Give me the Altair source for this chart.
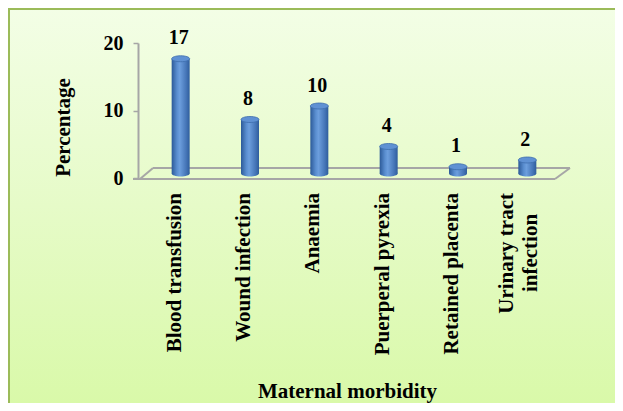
import altair as alt
import pandas as pd

categories = ["Blood transfusion", "Wound infection", "Anaemia",
              "Puerperal pyrexia", "Retained placenta", "Urinary tract infection"]
values = [17, 8, 10, 4, 1, 2]
label_line1 = ["Blood transfusion", "Wound infection", "Anaemia",
               "Puerperal pyrexia", "Retained placenta", "Urinary tract"]
label_line2 = ["", "", "", "", "", "infection"]
y_ticks = [0, 10, 20]

df = pd.DataFrame({"cat": categories, "val": values,
                   "l1": label_line1, "l2": label_line2})
df["nlines"] = [2 if s else 1 for s in df["l2"]]

FONT = "Liberation Serif"
W, H = 416, 135
PL, PT = 138, 35
TOTW, TOTH = 607, 395

xs = alt.X("cat:N", sort=categories,
           scale=alt.Scale(domain=categories, paddingInner=0, paddingOuter=0),
           axis=alt.Axis(labels=False, ticks=False, domain=False, zindex=2,
                         title="Maternal morbidity", titleFont=FONT,
                         titleFontSize=21, titleFontWeight="bold",
                         titleColor="black", titleX=201, titleY=213,
                         titleAlign="center", titleBaseline="middle"))
ys = alt.Y("val:Q", scale=alt.Scale(domain=[0, 20], nice=False),
           axis=alt.Axis(values=y_ticks, grid=False, offset=8, zindex=2,
                         domainColor="#A6A6A6", domainWidth=2,
                         tickColor="#A6A6A6", tickSize=5, tickWidth=1.5,
                         labelFont=FONT, labelFontSize=20, labelFontWeight="bold",
                         labelColor="black", labelPadding=10,
                         title="Percentage", titleFont=FONT, titleFontSize=21,
                         titleFontWeight="bold", titleColor="black",
                         titleX=-75, titleY=84, titleAngle=270,
                         titleAlign="center", titleBaseline="middle"))

one = alt.Data(values=[{"a": 1}])

bg = alt.Chart(one).mark_rect(
    fill=alt.LinearGradient(gradient="linear", x1=0, x2=0, y1=0, y2=1,
                            stops=[alt.GradientStop(color="#F3FEE6", offset=0),
                                   alt.GradientStop(color="#E6FBC8", offset=0.5),
                                   alt.GradientStop(color="#D9F9A9", offset=1)]),
).encode(x=alt.value(-PL), x2=alt.value(TOTW - PL),
         y=alt.value(-PT), y2=alt.value(TOTH - PT))
border_top = alt.Chart(one).mark_rule(color="#9BBB59", strokeWidth=2).encode(
    x=alt.value(-PL), x2=alt.value(TOTW - PL), y=alt.value(-PT + 1))
border_left = alt.Chart(one).mark_rule(color="#9BBB59", strokeWidth=2).encode(
    x=alt.value(-PL + 1), y=alt.value(-PT), y2=alt.value(TOTH - PT))

floor_col = "#A6A6A6"
front = alt.Chart(one).mark_rule(color=floor_col, strokeWidth=2).encode(
    x=alt.value(-13), x2=alt.value(409), y=alt.value(136))
back = alt.Chart(one).mark_rule(color=floor_col, strokeWidth=2).encode(
    x=alt.value(7), x2=alt.value(424), y=alt.value(125))
ldiag = alt.Chart(one).mark_rule(color=floor_col, strokeWidth=2).encode(
    x=alt.value(-6), x2=alt.value(7), y=alt.value(136), y2=alt.value(125))
rdiag = alt.Chart(one).mark_rule(color=floor_col, strokeWidth=2).encode(
    x=alt.value(409), x2=alt.value(424), y=alt.value(136), y2=alt.value(125))

base = alt.Chart(df)

cyl_grad = alt.LinearGradient(gradient="linear", x1=0, x2=1, y1=0, y2=0,
                              stops=[alt.GradientStop(color="#2C5A98", offset=0),
                                     alt.GradientStop(color="#5A8ED0", offset=0.3),
                                     alt.GradientStop(color="#6C9EDD", offset=0.45),
                                     alt.GradientStop(color="#4676B8", offset=0.8),
                                     alt.GradientStop(color="#2F5D9C", offset=1)])
ellipse = ("M -1 0 C -1 -0.183 -0.552 -0.333 0 -0.333 C 0.552 -0.333 1 -0.183 1 0 "
           "C 1 0.183 0.552 0.333 0 0.333 C -0.552 0.333 -1 0.183 -1 0 Z")
OFF = -4.5

bottom_ell = base.mark_point(shape=ellipse, size=324, filled=True, opacity=1,
                             fill=cyl_grad, yOffset=OFF).encode(
    x=xs, y=alt.datum(0))
bars = base.mark_bar(size=18, fill=cyl_grad, yOffset=OFF, y2Offset=OFF).encode(
    x=xs, y=ys, y2=alt.datum(0))
top_ell = base.mark_point(shape=ellipse, size=324, filled=True, opacity=1,
                          fill="#5F91D3", stroke="#3D6DAC", strokeWidth=0.8,
                          yOffset=OFF).encode(x=xs, y="val:Q")

vlabels = base.mark_text(font=FONT, fontSize=20, fontWeight="bold", color="black",
                         dy=-25, xOffset=-2, baseline="middle").encode(
    x=xs, y="val:Q", text="val:Q")

cl_single = base.transform_filter("datum.nlines == 1").mark_text(
    font=FONT, fontSize=21, fontWeight="bold", color="black", angle=270,
    align="right", baseline="middle", xOffset=-6).encode(
    x=xs, y=alt.value(150), text="l1:N")
cl_first = base.transform_filter("datum.nlines == 2").mark_text(
    font=FONT, fontSize=21, fontWeight="bold", color="black", angle=270,
    align="right", baseline="middle", xOffset=-20).encode(
    x=xs, y=alt.value(150), text="l1:N")
cl_second = base.transform_filter("datum.nlines == 2").mark_text(
    font=FONT, fontSize=21, fontWeight="bold", color="black", angle=270,
    align="center", baseline="middle", xOffset=4).encode(
    x=xs, y=alt.value(210), text="l2:N")

chart = alt.layer(bg, border_top, border_left, back, ldiag, rdiag, front,
                  bottom_ell, bars, top_ell,
                  vlabels, cl_single, cl_first, cl_second).properties(
    width=W, height=H,
    autosize=alt.AutoSizeParams(type="none"),
    padding={"left": PL, "top": PT, "right": TOTW - PL - W, "bottom": TOTH - PT - H},
    background="white",
).configure_view(stroke=None)

chart.save("out.html", embed_options={"renderer": "svg", "actions": False})
